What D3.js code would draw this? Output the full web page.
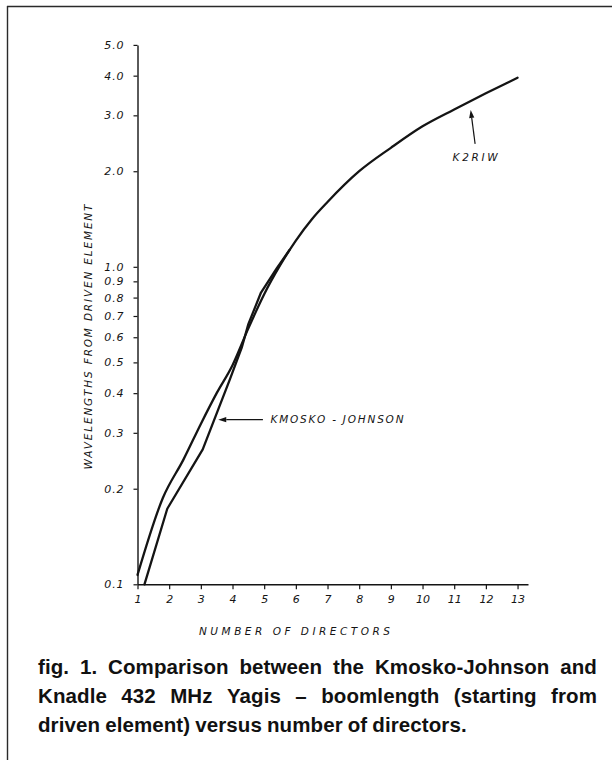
<!DOCTYPE html>
<html>
<head>
<meta charset="utf-8">
<script src="https://cdn.jsdelivr.net/npm/d3@7"></script>
<style>
  html, body { margin: 0; padding: 0; background: #fff; }
  svg { display: block; }
</style>
</head>
<body>
<svg id="chart" width="612" height="760"></svg>
<script>
// Number of directors on the horizontal axis
const directorTicks = [1, 2, 3, 4, 5, 6, 7, 8, 9, 10, 11, 12, 13];
// Boom length (wavelengths from driven element), log axis
const wavelengthTicks = [0.1, 0.2, 0.3, 0.4, 0.5, 0.6, 0.7, 0.8, 0.9, 1.0, 2.0, 3.0, 4.0, 5.0];

// K2RIW (Knadle) design curve
const k2riwDirectors = [1, 1.8, 2.45, 3, 3.5, 4, 4.5, 5, 5.5, 6, 6.5, 7, 8, 9, 10, 11, 12, 13];
const k2riwLengths   = [0.107, 0.187, 0.247, 0.32, 0.40, 0.49, 0.64, 0.82, 1.01, 1.21, 1.41, 1.60, 2.0, 2.37, 2.77, 3.13, 3.52, 3.94];

// Kmosko-Johnson design curve
const kjDirectors = [1.22, 1.94, 3.06, 3.92, 4.3, 4.5, 4.9, 5.4, 5.8];
const kjLengths   = [0.1, 0.173, 0.266, 0.443, 0.56, 0.66, 0.83, 0.99, 1.13];

const xTitle = "NUMBER OF DIRECTORS";
const yTitle = "WAVELENGTHS FROM DRIVEN ELEMENT";
const kjLabel = "KMOSKO - JOHNSON";
const k2Label = "K2RIW";
const captionLines = [
  "fig. 1. Comparison between the Kmosko-Johnson and",
  "Knadle 432 MHz Yagis \u2013 boomlength (starting from",
  "driven element) versus number of directors."
];

const svg = d3.select("#chart");
const ink = "#141414";
const letterFont = "'DejaVu Sans', Verdana, sans-serif";
const captionFont = "'Liberation Sans', Arial, sans-serif";

// page frame (top rule and left rule)
svg.append("line").attr("x1", 7).attr("x2", 612).attr("y1", 6.5).attr("y2", 6.5)
  .attr("stroke", "#2a2a2a").attr("stroke-width", 1.6);
svg.append("line").attr("x1", 7.5).attr("x2", 7.5).attr("y1", 6).attr("y2", 760)
  .attr("stroke", "#2a2a2a").attr("stroke-width", 1.4);

const x = d3.scaleLinear().domain([1, 13.33]).range([137.5, 528]);
const y = d3.scaleLog().domain([0.1, 5]).range([584.3, 44.9]);

const fmt = d => d < 1 ? String(d) : d.toFixed(1);

// y axis
const gy = svg.append("g").attr("transform", "translate(137.5,0)")
  .call(d3.axisLeft(y).tickValues(wavelengthTicks).tickFormat(fmt)
    .tickSize(4).tickPadding(9).tickSizeOuter(0));
// x axis
const gx = svg.append("g").attr("transform", "translate(0,584.3)")
  .call(d3.axisBottom(x).tickValues(directorTicks).tickFormat(d => String(d))
    .tickSize(5).tickPadding(6).tickSizeOuter(0));

[gx, gy].forEach(g => {
  g.select(".domain").attr("stroke", ink).attr("stroke-width", 1.4);
  g.selectAll(".tick line").attr("stroke", ink).attr("stroke-width", 1.2);
  g.selectAll(".tick text")
    .attr("fill", ink)
    .style("font-family", letterFont)
    .style("font-style", "italic")
    .style("font-size", "11px");
});
gy.selectAll(".tick text").style("letter-spacing", "0.9px");

// curves
const line = d3.line().x(d => x(d[0])).y(d => y(d[1]));
const k2Data = k2riwDirectors.map((d, i) => [d, k2riwLengths[i]]);
const kjData = kjDirectors.map((d, i) => [d, kjLengths[i]]);

svg.append("path").datum(k2Data)
  .attr("d", line.curve(d3.curveMonotoneX))
  .attr("fill", "none").attr("stroke", ink).attr("stroke-width", 2.3)
  .attr("stroke-linejoin", "round").attr("stroke-linecap", "round");
svg.append("path").datum(kjData)
  .attr("d", line.curve(d3.curveLinear))
  .attr("fill", "none").attr("stroke", ink).attr("stroke-width", 2.3)
  .attr("stroke-linejoin", "round").attr("stroke-linecap", "round");

// arrow helper: shaft from tail to tip, filled head at tip
function arrow(tail, tip) {
  const [x0, y0] = tail, [x1, y1] = tip;
  const dx = x1 - x0, dy = y1 - y0, len = Math.hypot(dx, dy);
  const ux = dx / len, uy = dy / len;
  const hl = 8, hw = 2.6;
  const bx = x1 - ux * hl, by = y1 - uy * hl;
  svg.append("line").attr("x1", x0).attr("y1", y0).attr("x2", bx).attr("y2", by)
    .attr("stroke", ink).attr("stroke-width", 1.2);
  svg.append("path")
    .attr("d", `M${x1},${y1}L${bx - uy * hw},${by + ux * hw}L${bx + uy * hw},${by - ux * hw}Z`)
    .attr("fill", ink);
}

function lettering(sel) {
  return sel.style("font-family", letterFont).style("font-style", "italic")
    .style("font-size", "10.5px").attr("lengthAdjust", "spacing").attr("fill", ink);
}

// Kmosko-Johnson annotation
arrow([x(4.96), y(0.33)], [x(3.55), y(0.33)]);
svg.append("text").attr("x", x(5.2)).attr("y", y(0.33) + 3.8)
  .attr("textLength", 133).call(lettering).text(kjLabel);

// K2RIW annotation
arrow([x(11.66), y(2.44)], [x(11.52), y(3.12)]);
svg.append("text").attr("x", x(11.66)).attr("y", y(2.15))
  .attr("text-anchor", "middle").attr("textLength", 45).call(lettering).text(k2Label);

// axis titles
svg.append("text").attr("x", 294.5).attr("y", 635)
  .attr("text-anchor", "middle").attr("textLength", 191).call(lettering).text(xTitle);
svg.append("text").attr("transform", "translate(92,337) rotate(-90)")
  .attr("text-anchor", "middle").attr("textLength", 265).call(lettering).text(yTitle);

// caption, first two lines justified between the margins
const capLeft = 38, capRight = 597;
const capBase = [674, 703, 732];
captionLines.forEach((txt, li) => {
  const words = txt.split(" ");
  const g = svg.append("g");
  const nodes = words.map(w => g.append("text")
    .attr("y", capBase[li])
    .style("font-family", captionFont).style("font-weight", "bold")
    .style("font-size", "20.5px").style("letter-spacing", "0.1px")
    .attr("fill", "#111").text(w));
  const widths = nodes.map(n => n.node().getComputedTextLength());
  const total = d3.sum(widths);
  const spaceW = 5;
  const gap = li < 2 ? (capRight - capLeft - total) / (words.length - 1) : spaceW;
  let cx = capLeft;
  nodes.forEach((n, i) => { n.attr("x", cx); cx += widths[i] + gap; });
});
</script>
</body>
</html>
